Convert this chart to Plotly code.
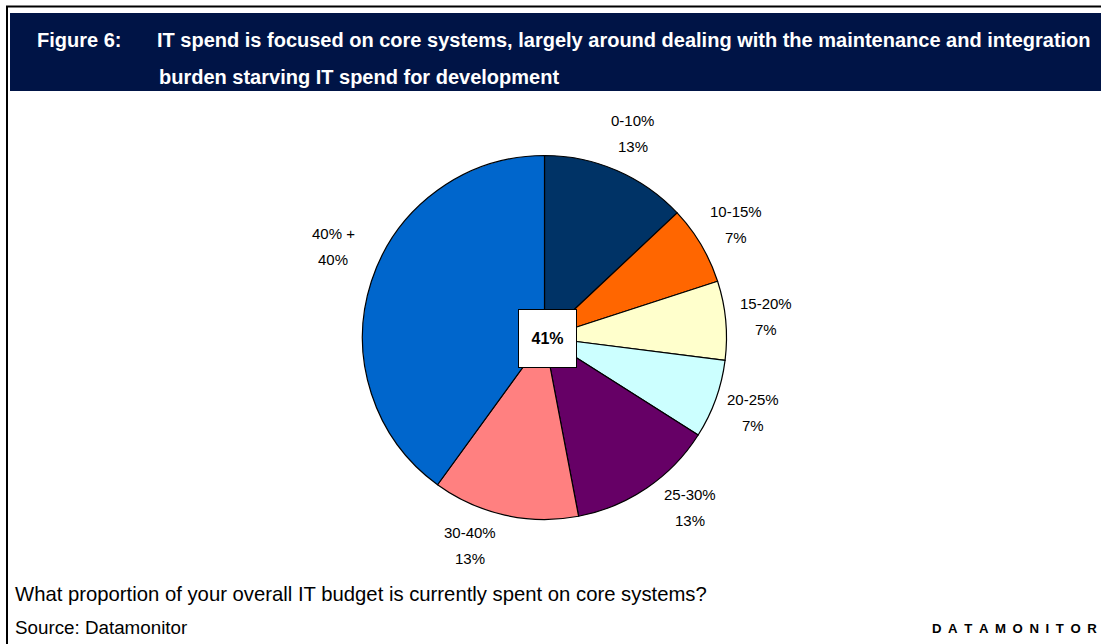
import math
import plotly.graph_objects as go

# Share of overall IT budget spent on core systems
bands = ["0-10%", "10-15%", "15-20%", "20-25%", "25-30%", "30-40%", "40% +"]
shares = [13, 7, 7, 7, 13, 13, 40]
colors = ["#003366", "#FF6600", "#FFFFCC", "#CCFFFF", "#660066", "#FF8080", "#0066CC"]
center_value = "41%"

W, H = 1101, 644
FONT = "Liberation Sans, Arial, sans-serif"

# pie geometry in pixels
cx, cy, r = 544.5, 337.5, 182.0
label_r = 222.0
# hand placement of a few labels: (angle shift in degrees, extra radius in px)
label_nudge = {"25-30%": (-6.4, 2), "30-40%": (7.1, -1), "40% +": (5.4, 8)}


def px(x):
    return x / W


def py(y):
    return 1 - y / H


fig = go.Figure()
fig.add_trace(go.Pie(
    labels=bands,
    values=shares,
    sort=False,
    direction="clockwise",
    rotation=0,
    textinfo="none",
    hoverinfo="label+percent",
    marker=dict(colors=colors, line=dict(color="#000000", width=1.2)),
    domain=dict(x=[px(cx - r), px(cx + r)], y=[py(cy + r), py(cy - r)]),
    showlegend=False,
))

annotations = []
total = sum(shares)
cum = 0.0
for band, val in zip(bands, shares):
    shift, extra = label_nudge.get(band, (0.0, 0.0))
    mid = (cum + val / 2) / total * 2 * math.pi + math.radians(shift)
    cum += val
    lr = label_r + extra
    lx = cx + lr * math.sin(mid)
    ly = cy - lr * math.cos(mid)
    pct = f"{round(val / total * 100)}%"
    for text, dy in ((band, -13), (pct, 13)):
        annotations.append(dict(
            x=px(lx), y=py(ly + dy), xref="paper", yref="paper",
            text=text, showarrow=False, xanchor="center", yanchor="middle",
            font=dict(family=FONT, size=15, color="#000000"),
        ))

# boxed value in the middle of the pie
annotations.append(dict(
    x=px(547.5), y=py(338.5), xref="paper", yref="paper",
    text=f"<b>{center_value}</b>", showarrow=False,
    xanchor="center", yanchor="middle",
    width=55, height=55, bgcolor="#FFFFFF",
    bordercolor="#000000", borderwidth=1, borderpad=1,
    font=dict(family=FONT, size=16, color="#000000"),
))

# header text
head_font = dict(family=FONT, size=20, color="#FFFFFF")
annotations += [
    dict(x=px(35), y=py(40), xref="paper", yref="paper", text="<b>Figure 6:</b>",
         showarrow=False, xanchor="left", yanchor="middle", font=head_font),
    dict(x=px(155), y=py(40), xref="paper", yref="paper",
         text="<b>IT spend is focused on core systems, largely around dealing with the maintenance and integration</b>",
         showarrow=False, xanchor="left", yanchor="middle", font=head_font),
    dict(x=px(157), y=py(77), xref="paper", yref="paper",
         text="<b>burden starving IT spend for development</b>",
         showarrow=False, xanchor="left", yanchor="middle", font=head_font),
]

# footer text
annotations += [
    dict(x=px(13), y=py(594), xref="paper", yref="paper",
         text="What proportion of your overall IT budget is currently spent on core systems?",
         showarrow=False, xanchor="left", yanchor="middle",
         font=dict(family=FONT, size=20.3, color="#000000")),
    dict(x=px(13), y=py(627), xref="paper", yref="paper", text="Source: Datamonitor",
         showarrow=False, xanchor="left", yanchor="middle",
         font=dict(family=FONT, size=18.8, color="#000000")),
    dict(x=px(1099), y=py(628), xref="paper", yref="paper",
         text="<b>" + "\u2002".join("DATAMONITOR") + "</b>",
         showarrow=False, xanchor="right", yanchor="middle",
         font=dict(family=FONT, size=13.2, color="#000000")),
]

shapes = [
    # header band
    dict(type="rect", xref="paper", yref="paper", x0=px(10), x1=px(1101),
         y0=py(91), y1=py(13), fillcolor="#001446", line=dict(width=0), layer="below"),
    # frame lines
    dict(type="line", xref="paper", yref="paper", x0=px(6), x1=px(1101),
         y0=py(6.5), y1=py(6.5), line=dict(color="#000000", width=2)),
    dict(type="line", xref="paper", yref="paper", x0=px(7), x1=px(7),
         y0=py(6), y1=py(644), line=dict(color="#000000", width=2)),
]

fig.update_layout(
    width=W, height=H,
    margin=dict(l=0, r=0, t=0, b=0),
    paper_bgcolor="#FFFFFF",
    plot_bgcolor="#FFFFFF",
    annotations=annotations,
    shapes=shapes,
)

fig.write_html("out.html")
